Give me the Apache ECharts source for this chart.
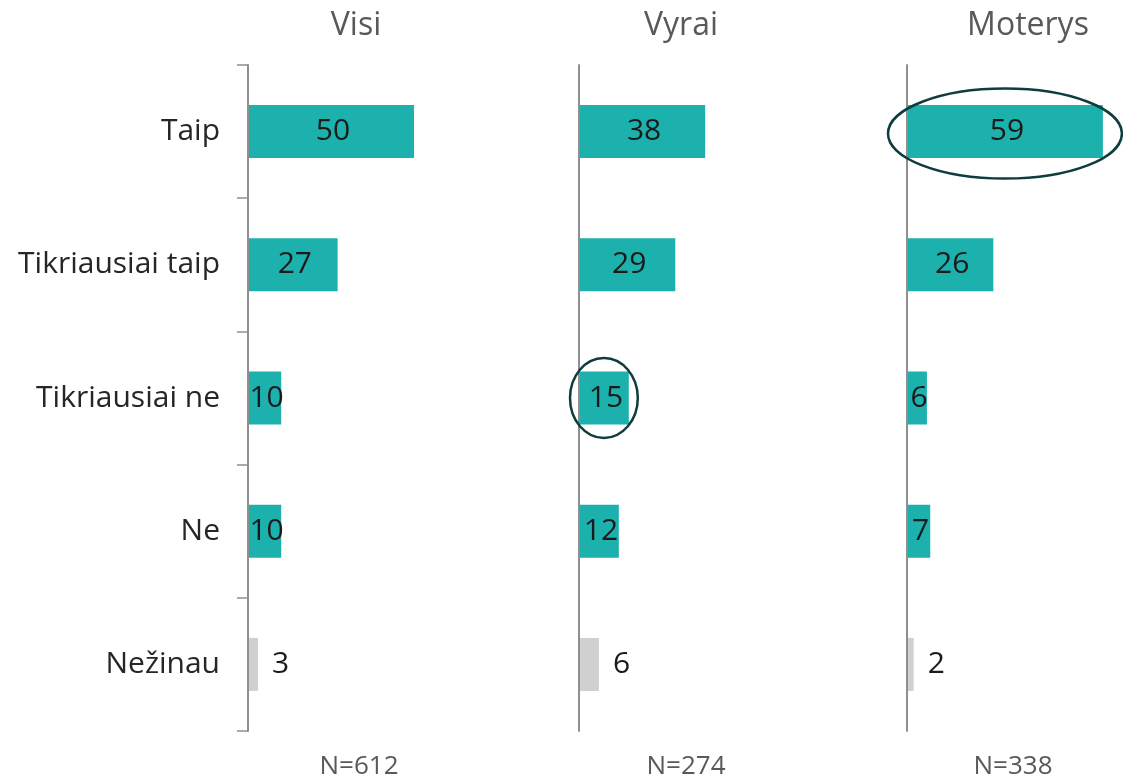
<!DOCTYPE html>
<html>
<head>
<meta charset="utf-8">
<script src="https://cdn.jsdelivr.net/npm/echarts@6/dist/echarts.min.js"></script>
<style>
html,body{margin:0;padding:0;background:#fff;}
#chart{width:1123px;height:780px;}
</style>
</head>
<body>
<div id="chart"></div>
<script>
const categories = ['Taip', 'Tikriausiai taip', 'Tikriausiai ne', 'Ne', 'Nežinau'];
const panelTitles = ['Visi', 'Vyrai', 'Moterys'];
const sampleSizes = ['N=612', 'N=274', 'N=338'];
const visiValues = [50, 27, 10, 10, 3];
const vyraiValues = [38, 29, 15, 12, 6];
const moterysValues = [59, 26, 6, 7, 2];
const panelValues = [visiValues, vyraiValues, moterysValues];
// highlighted [panelIndex, categoryIndex]
const highlights = [[1, 2], [2, 0]];

const FONT = 'Open Sans';
const TEAL = '#1db1ad';
const GREY_BAR = '#d0d0d0';
const AXIS = '#8f8f8f';
const gridLefts = [248, 579, 907];
const XMAX = 60;
const GRID_W = 199.2;
const TOP = 65, BOTTOM = 49;

const chart = echarts.init(document.getElementById('chart'));

const grids = [], xAxes = [], yAxes = [], series = [], titles = [];
panelValues.forEach((vals, i) => {
  grids.push({ left: gridLefts[i], top: TOP, bottom: BOTTOM, width: GRID_W, containLabel: false });
  xAxes.push({ type: 'value', gridIndex: i, min: 0, max: XMAX, show: false, splitLine: { show: false } });
  yAxes.push({
    type: 'category', gridIndex: i, data: categories, inverse: true, boundaryGap: true,
    axisLine: { show: true, lineStyle: { color: AXIS, width: 2 } },
    axisTick: { show: i === 0, length: 11, lineStyle: { color: AXIS, width: 1.5 } },
    axisLabel: { show: i === 0, fontFamily: FONT, fontSize: 30, color: '#262626', margin: 28 },
    splitLine: { show: false },
    z: 5
  });
  series.push({
    type: 'bar', xAxisIndex: i, yAxisIndex: i, barWidth: 53,
    data: vals.map((v, k) => {
      const last = k === categories.length - 1;
      return {
        value: v,
        itemStyle: { color: last ? GREY_BAR : TEAL },
        label: last ? { position: 'right', distance: 14 } : { position: 'inside', offset: [2, 0] }
      };
    }),
    label: { show: true, fontFamily: FONT, fontSize: 30, color: '#1a1a1a' },
    silent: true, animation: false
  });
  const cx = gridLefts[i] + [103, 97, 116][i];
  titles.push({ text: panelTitles[i], left: cx, top: 5, textAlign: 'center',
    textStyle: { fontFamily: FONT, fontSize: 32, fontWeight: 'normal', color: '#595959' } });
  titles.push({ text: sampleSizes[i], left: gridLefts[i] + [106, 102, 101][i], top: 749, textAlign: 'center',
    textStyle: { fontFamily: FONT, fontSize: 26, fontWeight: 'normal', color: '#595959' } });
});

chart.setOption({
  animation: false,
  title: titles,
  grid: grids,
  xAxis: xAxes,
  yAxis: yAxes,
  series: series
});

// ellipses around highlighted bars, positioned from the axes
const graphics = highlights.map(([p, c]) => {
  const v = panelValues[p][c];
  const center = chart.convertToPixel({ gridIndex: p }, [v / 2, categories[c]]);
  const end = chart.convertToPixel({ gridIndex: p }, [v, categories[c]]);
  const rx = (end[0] - center[0]) + (p === 2 ? 19 : 9);
  const ry = p === 2 ? 45 : 40;
  return {
    type: 'ellipse',
    shape: { cx: center[0], cy: center[1] + (p === 2 ? 2 : 0), rx: rx, ry: ry },
    style: { fill: 'none', stroke: '#0f3d3e', lineWidth: 2.5 },
    z: 100
  };
});
chart.setOption({ graphic: graphics });
</script>
</body>
</html>
